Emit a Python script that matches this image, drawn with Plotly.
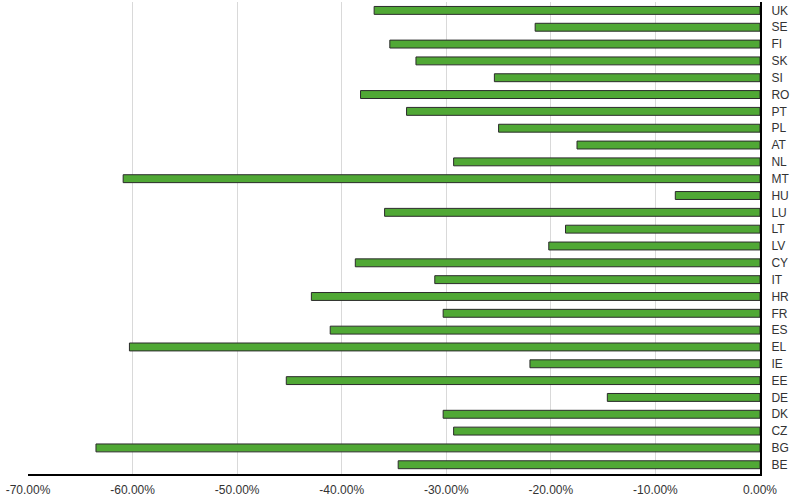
import plotly.graph_objects as go

countries = ["BE", "BG", "CZ", "DK", "DE", "EE", "IE", "EL", "ES", "FR", "HR", "IT", "CY", "LV",
             "LT", "LU", "HU", "MT", "NL", "AT", "PL", "PT", "RO", "SI", "SK", "FI", "SE", "UK"]
values = [-34.6, -63.5, -29.3, -30.3, -14.6, -45.3, -22.0, -60.3, -41.1, -30.3, -42.9, -31.1, -38.7, -20.2,
          -18.6, -35.9, -8.1, -60.9, -29.3, -17.5, -25.0, -33.8, -38.2, -25.4, -32.9, -35.4, -21.5, -36.9]
x_ticks = [-70, -60, -50, -40, -30, -20, -10, 0]
x_tick_labels = ["-70.00%", "-60.00%", "-50.00%", "-40.00%", "-30.00%", "-20.00%", "-10.00%", "0.00%"]

tick_font = dict(family="Liberation Sans, Arial, sans-serif", size=12, color="#333333")

fig = go.Figure(go.Bar(
    x=values, y=countries, orientation="h",
    marker=dict(color="#50a835", line=dict(color="#2b2b2b", width=1)),
    width=0.47,
))

fig.update_layout(
    width=790, height=498,
    margin=dict(l=28, r=30, t=2, b=24, autoexpand=False),
    paper_bgcolor="white", plot_bgcolor="white",
    showlegend=False,
    font=tick_font,
    xaxis=dict(range=[-70, 0], tickvals=x_ticks, ticktext=x_tick_labels,
               showgrid=True, gridcolor="#d9d9d9", gridwidth=1,
               zeroline=False, showline=True, linecolor="black", linewidth=2,
               ticks="", ticklabelstandoff=4, automargin=False, tickfont=tick_font),
    yaxis=dict(side="right", range=[-0.55, 27.5], showgrid=False, zeroline=False,
               showline=True, linecolor="black", linewidth=2, ticks="",
               ticklabelstandoff=7, automargin=False, tickfont=tick_font,
               categoryorder="array", categoryarray=countries),
)

fig.write_html("out.html", config={"displayModeBar": False},
               post_script="document.body.style.margin='0';document.body.style.overflow='hidden';")
